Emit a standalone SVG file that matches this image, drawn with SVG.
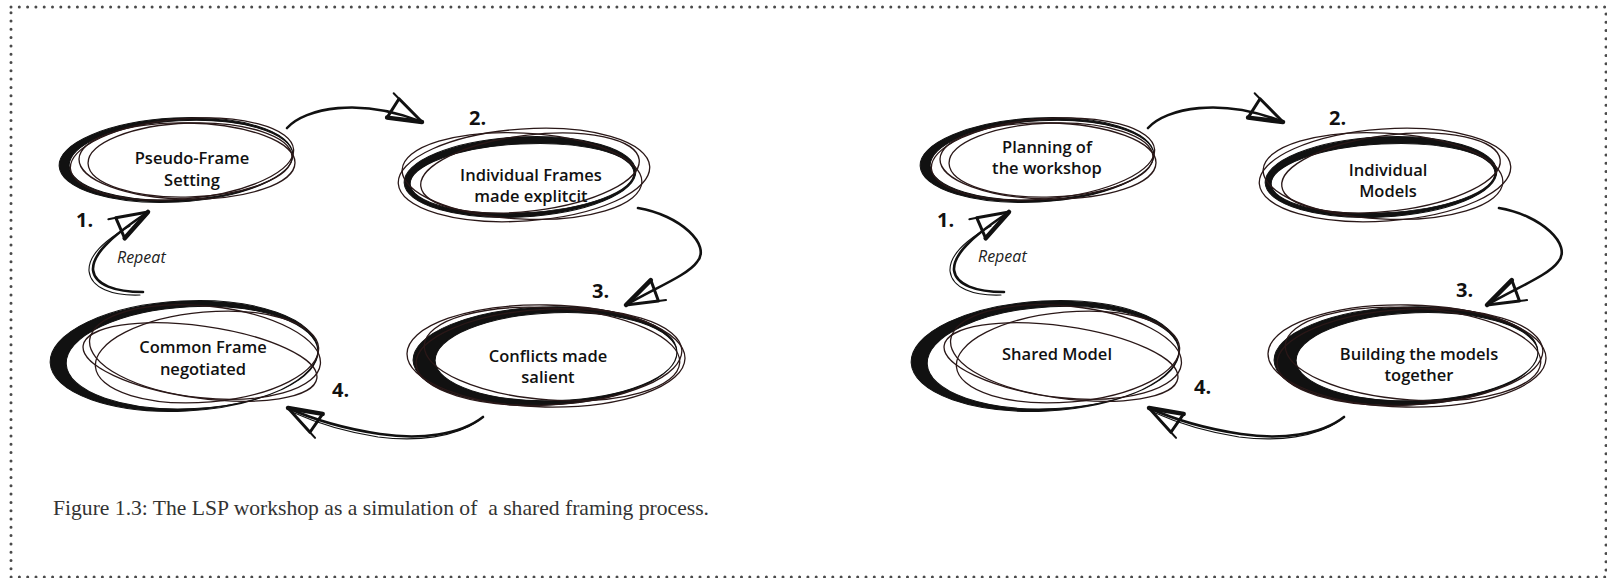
<svg xmlns="http://www.w3.org/2000/svg" xmlns:xlink="http://www.w3.org/1999/xlink" width="1607" height="578" viewBox="0 0 1607 578">
<style>
.thin{fill:none;stroke:#2a1818;stroke-width:1.3}
.heavy{fill:#111;fill-rule:evenodd;stroke:#111;stroke-width:1}
.lbl{font-family:"Open Sans","Liberation Sans",sans-serif;font-weight:600;font-size:16.5px;fill:#111;text-anchor:middle}
.num{font-family:"Open Sans","Liberation Sans",sans-serif;font-weight:700;font-size:20px;fill:#111}
.rep{font-family:"Open Sans","Liberation Sans",sans-serif;font-style:italic;font-size:16px;fill:#222}
.cap{font-family:"Liberation Serif","Times New Roman",serif;font-size:21px;fill:#333}
.con{fill:none;stroke:#111;stroke-width:2.6;stroke-linecap:round}
.con2{fill:none;stroke:#111;stroke-width:1.1;stroke-linecap:round}
</style>
<defs>
<marker id="ah" markerUnits="userSpaceOnUse" markerWidth="60" markerHeight="60" viewBox="-42 -30 60 60" refX="0" refY="0" orient="auto" overflow="visible">
<path d="M0,0 L-30,-13 L-34,9 Z" fill="none" stroke="#111" stroke-width="3" stroke-linejoin="round"/>
<path d="M0,0 L-34,9" fill="none" stroke="#111" stroke-width="4.5" stroke-linecap="round"/>
<path d="M-30,-13 L-37,-16" fill="none" stroke="#111" stroke-width="2" stroke-linecap="round"/>
</marker>
<g id="shape1">
<path class="heavy" transform="rotate(-3 176 160)" d="M59,160 A117,42 0 1 0 293,160 A117,42 0 1 0 59,160 Z M69,160.5 A112,39.5 0 1 0 293,160.5 A112,39.5 0 1 0 69,160.5 Z"/>
<ellipse class="thin" cx="190" cy="160" rx="102" ry="37" transform="rotate(-2 190 160)"/>
<ellipse class="thin" cx="182" cy="159" rx="112" ry="40" transform="rotate(-5 182 159)"/>
<ellipse class="thin" cx="187" cy="161" rx="108" ry="38" transform="rotate(1 187 161)"/>
</g>
<g id="shape2">
<path class="heavy" transform="rotate(-3 520 177)" d="M404,177 A116,40 0 1 0 636,177 A116,40 0 1 0 404,177 Z M410,178.5 A112,34.5 0 1 0 634,178.5 A112,34.5 0 1 0 410,178.5 Z"/>
<ellipse class="thin" cx="524" cy="175" rx="126" ry="46" transform="rotate(-4 524 175)"/>
<ellipse class="thin" cx="522" cy="176" rx="120" ry="43" transform="rotate(3 522 176)"/>
<ellipse class="thin" cx="530" cy="173" rx="110" ry="38" transform="rotate(-7 530 173)"/>
</g>
<g id="shape3">
<path class="heavy" transform="rotate(-2 545 356)" d="M413,356 A132,49 0 1 0 677,356 A132,49 0 1 0 413,356 Z M435,357 A121,44 0 1 0 677,357 A121,44 0 1 0 435,357 Z"/>
<ellipse class="thin" cx="546" cy="356" rx="139" ry="51" transform="rotate(1 546 356)"/>
<ellipse class="thin" cx="549" cy="357" rx="133" ry="48" transform="rotate(-3 549 357)"/>
<ellipse class="thin" cx="552" cy="354" rx="128" ry="46" transform="rotate(4 552 354)"/>
</g>
<g id="shape4">
<path class="heavy" transform="rotate(-3 184 356)" d="M50,356 A134,55 0 1 0 318,356 A134,55 0 1 0 50,356 Z M66,358 A126,51 0 1 0 318,358 A126,51 0 1 0 66,358 Z"/>
<ellipse class="thin" cx="205" cy="352" rx="116" ry="46" transform="rotate(6 205 352)"/>
<ellipse class="thin" cx="207" cy="357" rx="112" ry="45" transform="rotate(-5 207 357)"/>
<ellipse class="thin" cx="200" cy="362" rx="118" ry="36" transform="rotate(8 200 362)"/>
</g>
<g id="conns">
<path class="con" d="M287,128 C305,108 360,97 422,122" marker-end="url(#ah)"/>
<path class="con" d="M638,208 C680,215 712,245 697,262 C688,275 655,288 626,305" marker-end="url(#ah)"/>
<path class="con" d="M483,417 C460,435 420,440 380,434 C340,428 310,418 288,408" marker-end="url(#ah)"/>
<path class="con2" d="M478,421 C455,437 418,442 378,437 C340,431 312,421 292,412"/>
<path class="con" d="M143,292 C115,292 95,285 93,270 C92,252 118,232 148,212" marker-end="url(#ah)"/>
<path class="con2" d="M140,295 C112,296 91,288 89,271 C88,252 112,236 130,226"/>
</g>
</defs>

<rect x="11" y="7" width="1595" height="570" fill="none" stroke="#4a4a4a" stroke-width="3" stroke-dasharray="0 8.3" stroke-linecap="round"/>

<g id="connectors">
<use xlink:href="#conns" href="#conns"/>
<use xlink:href="#conns" href="#conns" transform="translate(861 0)"/>
</g>

<g id="node-l1">
<use xlink:href="#shape1" href="#shape1"/>
<text class="lbl" x="192" y="164">Pseudo-Frame</text>
<text class="lbl" x="192" y="186">Setting</text>
</g>
<g id="node-l2">
<use xlink:href="#shape2" href="#shape2"/>
<text class="lbl" x="531" y="181">Individual Frames</text>
<text class="lbl" x="531" y="202">made explitcit</text>
</g>
<g id="node-l3">
<use xlink:href="#shape3" href="#shape3"/>
<text class="lbl" x="548" y="362">Conflicts made</text>
<text class="lbl" x="548" y="383">salient</text>
</g>
<g id="node-l4">
<use xlink:href="#shape4" href="#shape4"/>
<text class="lbl" x="203" y="353">Common Frame</text>
<text class="lbl" x="203" y="375">negotiated</text>
</g>

<g id="node-r1">
<use xlink:href="#shape1" href="#shape1" transform="translate(861 0)"/>
<text class="lbl" x="1047" y="153">Planning of</text>
<text class="lbl" x="1047" y="174">the workshop</text>
</g>
<g id="node-r2">
<use xlink:href="#shape2" href="#shape2" transform="translate(861 0)"/>
<text class="lbl" x="1388" y="176">Individual</text>
<text class="lbl" x="1388" y="197">Models</text>
</g>
<g id="node-r3">
<use xlink:href="#shape3" href="#shape3" transform="translate(861 0)"/>
<text class="lbl" x="1419" y="360">Building the models</text>
<text class="lbl" x="1419" y="381">together</text>
</g>
<g id="node-r4">
<use xlink:href="#shape4" href="#shape4" transform="translate(861 0)"/>
<text class="lbl" x="1057" y="360">Shared Model</text>
</g>

<g id="step-labels">
<text class="num" x="76" y="227">1.</text>
<text class="num" x="469" y="125">2.</text>
<text class="num" x="592" y="298">3.</text>
<text class="num" x="332" y="397">4.</text>
<text class="rep" x="117" y="263">Repeat</text>
<text class="num" x="937" y="227">1.</text>
<text class="num" x="1329" y="125">2.</text>
<text class="num" x="1456" y="297">3.</text>
<text class="num" x="1194" y="394">4.</text>
<text class="rep" x="978" y="262">Repeat</text>
</g>

<text class="cap" x="53" y="515" textLength="656" lengthAdjust="spacingAndGlyphs" xml:space="preserve">Figure 1.3: The LSP workshop as a simulation of  a shared framing process.</text>
</svg>
